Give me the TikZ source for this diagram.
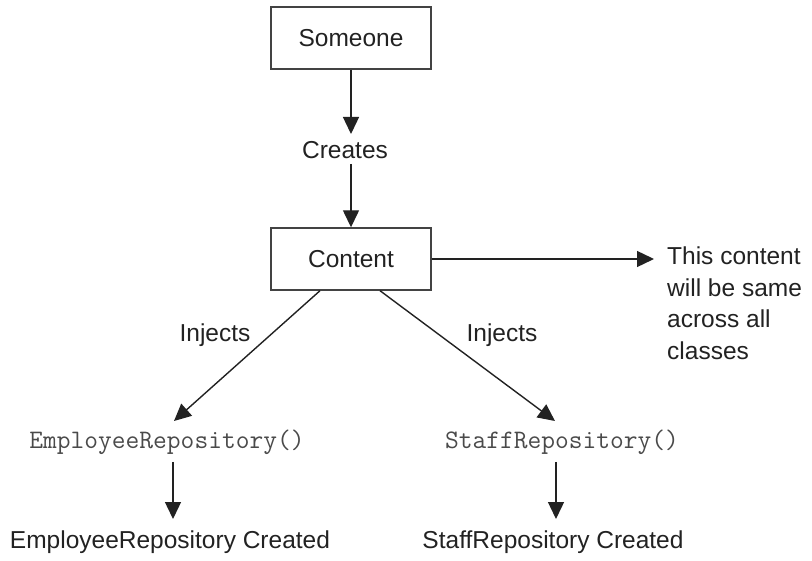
\documentclass[tikz,border=0pt]{standalone}
\usepackage{fontspec}
\setmainfont{Liberation Sans}
\usetikzlibrary{arrows.meta}
\definecolor{ink}{HTML}{222222}
\definecolor{codegray}{HTML}{4A4A4A}
\tikzset{
  lbl/.style={font=\fontsize{24.5}{31.5}\selectfont, text=ink, inner sep=0pt},
  code/.style={font=\ttfamily\fontsize{26.7}{28}\selectfont, text=codegray, inner sep=0pt},
  box/.style={draw=ink!85, line width=1.4pt, minimum width=160pt, minimum height=62pt, inner sep=0pt, font=\fontsize{24.5}{28}\selectfont, text=ink},
  arr/.style={draw=ink, line width=1.4pt, -{Triangle[length=17pt,width=16pt]}}
}
\begin{document}
\begin{tikzpicture}[x=1pt,y=-1pt]
\useasboundingbox (0,0) rectangle (812,561);
\node[box] (someone) at (351,38) {Someone};
\node[lbl] (creates) at (345,150) {Creates};
\node[box] (content) at (351,259) {Content};
\node[lbl, anchor=north west, align=left] (note) at (667,247) {This content\\will be same\\across all\\classes};
\coordinate (noteL) at (654,259);
\node[lbl] (inj1) at (215,335) {Injects};
\node[lbl] (inj2) at (502,335) {Injects};
\node[code] (emp) at (167,442) {EmployeeRepository()};
\node[code] (staff) at (562,442) {StaffRepository()};
\node[lbl] (empc) at (170,542) {EmployeeRepository Created};
\node[lbl] (staffc) at (553,542) {StaffRepository Created};
\coordinate (empTop) at (174,421);
\coordinate (staffTop) at (555,421);
\draw[arr] (someone.south) -- (351,134);
\draw[arr] (351,164) -- (content.north);
\draw[arr] (content.east) -- (noteL);
\draw[arr] ([xshift=-31pt]content.south) -- (empTop);
\draw[arr] ([xshift=29pt]content.south) -- (staffTop);
\draw[arr] (173,462) -- (173,519);
\draw[arr] (556,462) -- (556,519);
\end{tikzpicture}
\end{document}
